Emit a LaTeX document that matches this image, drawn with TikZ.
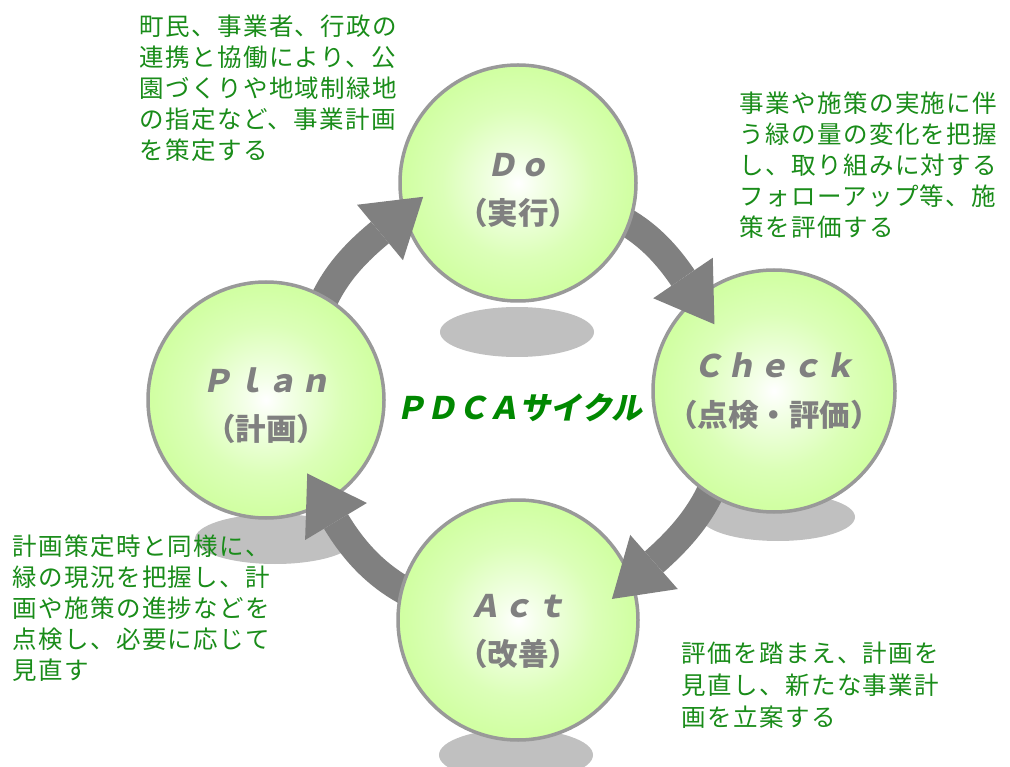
\documentclass[tikz,border=0pt]{standalone}
\usepackage{fontspec}
\usetikzlibrary{calc}
\newfontfamily\jp{Noto Sans CJK JP}[LetterSpace=6.0]
\newfontfamily\jplab{Noto Sans CJK JP}[FakeSlant=0.2,LetterSpace=6.0]
\newfontfamily\jpsub{Noto Sans CJK JP}
\newfontfamily\jptitle{Noto Sans CJK JP}[FakeSlant=0.2]
\definecolor{txtgreen}{RGB}{25,140,25}
\definecolor{ttlgreen}{RGB}{0,136,0}
\definecolor{labgray}{RGB}{128,128,128}
\definecolor{arrgray}{RGB}{128,128,128}
\definecolor{shadowc}{RGB}{192,192,192}
\definecolor{rimc}{RGB}{153,153,153}
\pgfdeclareradialshading{ballshade}{\pgfpoint{0bp}{0bp}}{rgb(0bp)=(1,1,1); rgb(4bp)=(0.96,1,0.92); rgb(16bp)=(0.86,1,0.72); rgb(28bp)=(0.8,1,0.6); rgb(50bp)=(0.78,1,0.56)}
\tikzset{
  ball/.style={circle, draw=rimc, line width=3.5pt, shading=ballshade, inner sep=0pt, minimum size=#1},
  shaft/.style={draw=arrgray, line width=28pt},
  head/.style={fill=arrgray},
  note/.style={font=\jp\fontsize{24.5}{30.8}\selectfont, text=txtgreen, align=left, anchor=north west, inner sep=0pt},
  lname/.style={font=\jplab\bfseries\fontsize{31}{31}\selectfont, text=labgray, anchor=base, inner sep=0pt},
  lsub/.style={font=\jpsub\bfseries\fontsize{30.5}{31}\selectfont, text=labgray, anchor=base, inner sep=0pt},
  ttl/.style={font=\jptitle\bfseries\fontsize{31}{31}\selectfont, text=ttlgreen, inner sep=0pt}
}
\begin{document}
\begin{tikzpicture}[x=1pt,y=1pt]
\useasboundingbox (0,0) rectangle (1010,-767);
\fill[white] (0,0) rectangle (1010,-767);
% circle centres
\coordinate (cplan) at (266,-400);
\coordinate (cdo) at (518,-183);
\coordinate (ccheck) at (774,-391);
\coordinate (cact) at (518,-620);
% shadows
\fill[shadowc] ($(cdo)+(-1,-149)$) ellipse [x radius=77, y radius=25];
\fill[shadowc] ($(cplan)+(9,-139)$) ellipse [x radius=80, y radius=25];
\fill[shadowc] ($(ccheck)+(4,-126)$) ellipse [x radius=77, y radius=24];
\fill[shadowc] ($(cact)+(-2,-135)$) ellipse [x radius=77, y radius=26];
% arrow shafts
\coordinate (s1) at (308.5,-343.3); \coordinate (b1) at (380,-232.5);
\coordinate (s2) at (555.6,-198);   \coordinate (b2) at (683,-278);
\coordinate (s3) at (729,-418);     \coordinate (b3) at (654,-562);
\coordinate (s4) at (501,-617);     \coordinate (b4) at (336,-521.5);
\draw[shaft] (s1) to[out=75,in=219.6] (b1);
\draw[shaft] (s2) to[out=-10,in=124.2] (b2);
\draw[shaft] (s3) to[out=-95,in=41.3] (b3);
\draw[shaft] (s4) to[out=175,in=-59.1] (b4);
% circles
\node[ball=236pt] (plan) at (cplan) {};
\node[ball=236pt] (do) at (cdo) {};
\node[ball=242pt] (check) at (ccheck) {};
\node[ball=240pt] (act) at (cact) {};
% arrow heads
\fill[head] ($(b1)+(39.6:56)$) -- ($(b1)+(129.6:36)$) -- ($(b1)+(-50.4:36)$) -- cycle;
\fill[head] ($(b2)+(-55.8:56)$) -- ($(b2)+(34.2:36)$) -- ($(b2)+(-145.8:36)$) -- cycle;
\fill[head] ($(b3)+(-138.7:56)$) -- ($(b3)+(-48.7:36)$) -- ($(b3)+(131.3:36)$) -- cycle;
\fill[head] ($(b4)+(120.9:56)$) -- ($(b4)+(210.9:36)$) -- ($(b4)+(30.9:36)$) -- cycle;
% circle labels
\node[lname] (planname) at (266,-392) {Ｐｌａｎ};
\node[lsub] (plansub) at (266,-440) {（計画）};
\node[lname] (doname) at (518,-177) {Ｄｏ};
\node[lsub] (dosub) at (518,-225) {（実行）};
\node[lname] (checkname) at (774,-378) {Ｃｈｅｃｋ};
\node[lsub] (checksub) at (774,-426) {（点検・評価）};
\node[lname] (actname) at (518,-617) {Ａｃｔ};
\node[lsub] (actsub) at (518,-665) {（改善）};
% title
\node[ttl] (title) at (519,-408) {ＰＤＣＡサイクル};
% notes
\node[note] (notedo) at (139,-15) {町民、事業者、行政の\\連携と協働により、公\\園づくりや地域制緑地\\の指定など、事業計画\\を策定する};
\node[note] (notecheck) at (739,-92) {事業や施策の実施に伴\\う緑の量の変化を把握\\し、取り組みに対する\\フォローアップ等、施\\策を評価する};
\node[note] (noteplan) at (12,-535) {計画策定時と同様に、\\緑の現況を把握し、計\\画や施策の進捗などを\\点検し、必要に応じて\\見直す};
\node[note, font=\jp\fontsize{24.5}{32}\selectfont] (noteact) at (681,-642) {評価を踏まえ、計画を\\見直し、新たな事業計\\画を立案する};
\end{tikzpicture}
\end{document}
